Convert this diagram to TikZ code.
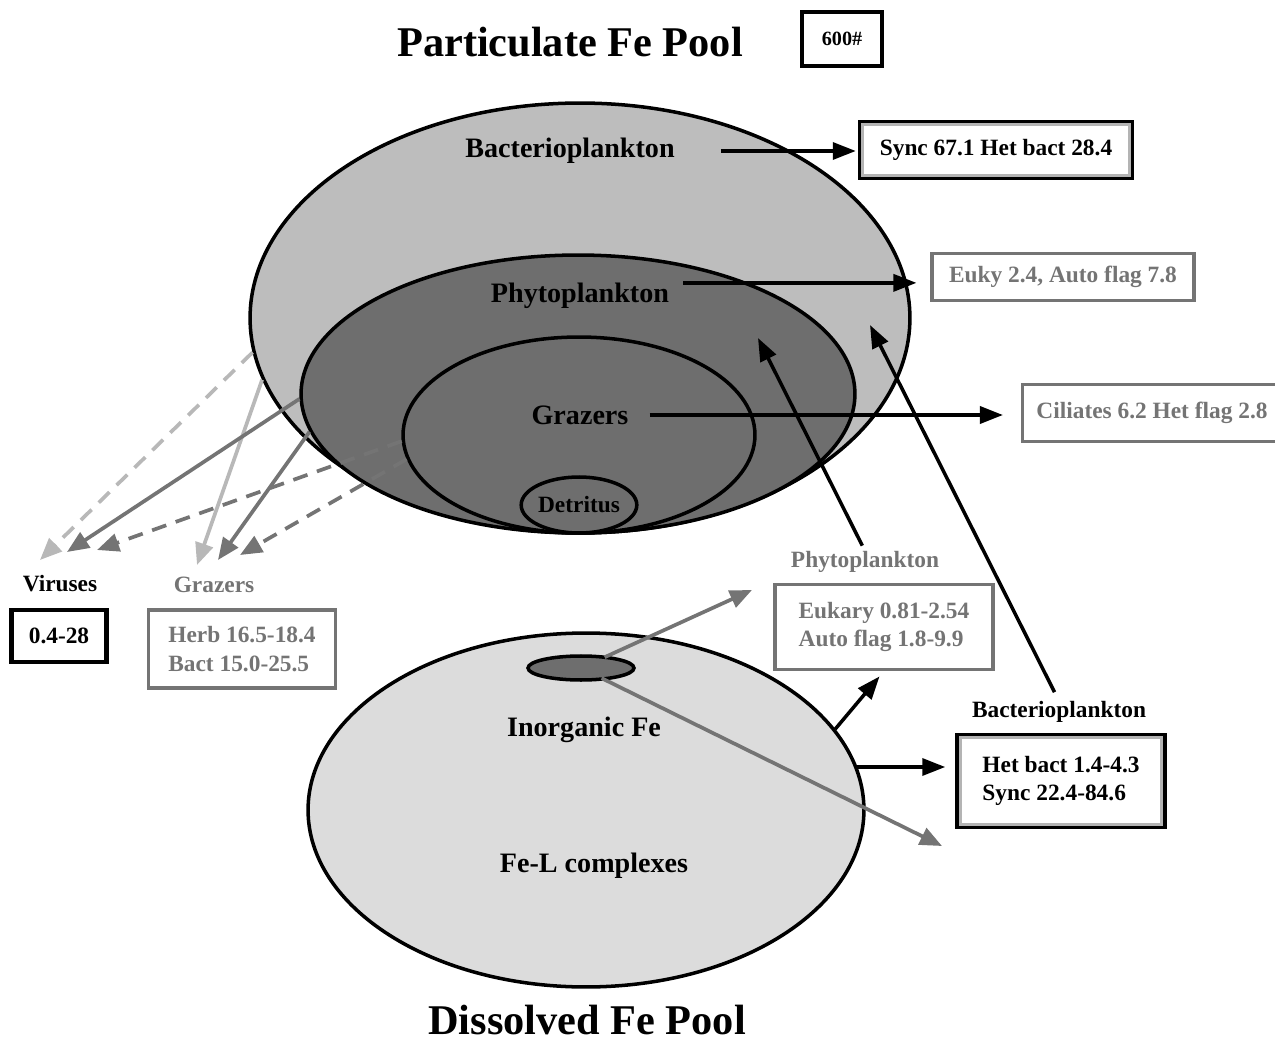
\documentclass[tikz,border=0pt]{standalone}
\usepackage{fontspec}
\setmainfont{Liberation Serif}
\usetikzlibrary{arrows.meta,calc,shapes.geometric}
\definecolor{lightfill}{HTML}{BDBDBD}
\definecolor{darkfill}{HTML}{6E6E6E}
\definecolor{dissfill}{HTML}{DCDCDC}
\definecolor{midgray}{HTML}{747474}
\definecolor{palegray}{HTML}{B8B8B8}
\definecolor{bandgray}{HTML}{B4B4B4}

\begin{document}
\begin{tikzpicture}[x=0.02cm,y=-0.02cm,
    title/.style={font=\fontsize{24.1}{28}\selectfont\bfseries},
    inlabel/.style={font=\fontsize{16}{19}\selectfont\bfseries,inner sep=0pt},
    tag/.style={font=\fontsize{13.3}{16}\selectfont\bfseries,inner sep=0pt},
    pool/.style={ellipse,draw=black,line width=2pt,inner sep=0pt},
    blackbox/.style={tag,draw=black,line width=2.6pt,align=left},
    graybox/.style={tag,draw=midgray,text=midgray,line width=1.8pt,align=left},
    flow/.style={line width=2pt,-{Triangle[length=0.46cm,width=0.34cm]}},
    loss/.style={line width=2.1pt,-{Triangle[length=0.44cm,width=0.36cm]}},
    broken/.style={dash pattern=on 0.3cm off 0.2cm}]
  \useasboundingbox (0,0) rectangle (1275,1044);

  % particulate pool
  \node[pool,fill=lightfill,minimum width=13.2cm,minimum height=8.6cm] (bactpool) at (580,318) {};
  \node[pool,fill=darkfill,minimum width=11.08cm,minimum height=5.56cm] (phytopool) at (578,394) {};
  \node[pool,fill=darkfill,minimum width=7.04cm,minimum height=3.92cm] (grazpool) at (579,435) {};
  \node[pool,fill=darkfill,tag,minimum width=2.2cm,minimum height=1.12cm] (detpool) at (579,505) {Detritus};

  \node[inlabel] (bactlbl) at (570,151) {Bacterioplankton};
  \node[inlabel] (phylbl) at (580,296) {Phytoplankton};
  \node[inlabel] (grzlbl) at (580,415) {Grazers};

  % dissolved pool
  \node[pool,fill=dissfill,minimum width=11.12cm,minimum height=7.08cm] (disspool) at (586,810) {};
  \node[pool,fill=darkfill,minimum width=2.12cm,minimum height=0.48cm] (inorg) at (581,668) {};
  \node[inlabel] (inorglbl) at (584,730) {Inorganic Fe};
  \node[inlabel] (fellbl) at (594,866) {Fe-L complexes};

  \node[title] (parttitle) at (570,42) {Particulate Fe Pool};
  \node[title] (disstitle) at (587,1020) {Dissolved Fe Pool};
  \node[blackbox,font=\fontsize{11.5}{14}\selectfont\bfseries,minimum width=1.6cm,minimum height=1.08cm] (count) at (842,39) {600\#};

  % boxes
  \node[blackbox,minimum width=5.44cm,minimum height=1.12cm] (sync) at (996,150) {Sync 67.1 Het bact 28.4};
  \node[graybox,minimum width=5.24cm,minimum height=0.94cm] (euky) at (1063,277) {Euky 2.4, Auto flag 7.8};
  \node[graybox,minimum width=5.18cm,minimum height=1.14cm] (cil) at (1152,413) {Ciliates 6.2 Het flag 2.8};

  \node[tag] (virlab) at (60,584) {Viruses};
  \node[tag,text=midgray] (grzlab) at (214,585) {Grazers};
  \node[blackbox,minimum width=1.9cm,minimum height=1.04cm] (virbox) at (59,636) {0.4-28};
  \node[graybox,minimum width=3.74cm,minimum height=1.56cm] (grzbox) at (242,649) {Herb 16.5-18.4\\Bact 15.0-25.5};

  \node[tag,text=midgray] (phylab) at (865,562) {Phytoplankton};
  \node[graybox,minimum width=4.36cm,minimum height=1.7cm] (phybox) at (884,627) {Eukary 0.81-2.54\\Auto flag 1.8-9.9};
  \node[tag] (baclab) at (1059,712) {Bacterioplankton};
  \node[blackbox,minimum width=4.14cm,minimum height=1.84cm] (bacbox) at (1061,781) {Het bact 1.4-4.3\\Sync 22.4-84.6};

  \foreach \b in {sync,bacbox}
    \draw[bandgray,line width=1.6pt] ($(\b.north west)+(5,5)$) rectangle ($(\b.south east)+(-5,-5)$);

  % free arrow ends
  \coordinate (vir1) at (40,560);
  \coordinate (vir2) at (67,552);
  \coordinate (vir3) at (97,550);
  \coordinate (grz1) at (197,565);
  \coordinate (grz2) at (218,560);
  \coordinate (grz3) at (240,555);
  \coordinate (phytip) at (758,338);
  \coordinate (bactip) at (870,325);
  \coordinate (uptake1) at (752,590);
  \coordinate (uptake2) at (942,846);

  % losses to viruses and grazers
  \foreach \from/\to/\col/\pat in {bactpool.186/vir1/palegray/broken, bactpool.191/grz1/palegray/solid,
      phytopool.181/vir2/midgray/solid, phytopool.188/grz2/midgray/solid,
      grazpool.182/vir3/midgray/broken, grazpool.188/grz3/midgray/broken}
    \draw[loss,\col,\pat] (\from) -- (\to);

  % fluxes
  \draw[flow,shorten <=0.92cm,shorten >=0.04cm] (bactlbl.east) -- (bactlbl.east -| sync.west);
  \draw[flow,shorten <=0.28cm,shorten >=0.28cm] (phylbl.north east) -- (phylbl.north east -| euky.west);
  \draw[flow,shorten <=0.42cm,shorten >=0.36cm] (grzlbl.east) -- (grzlbl.east -| cil.west);
  \draw[flow,shorten <=0.12cm] (phylab.north) -- (phytip);
  \draw[flow,shorten <=0.2cm] (baclab.north) -- (bactip);
  \draw[flow,shorten >=0.14cm] (disspool.18) -- (phybox.south);
  \draw[flow,shorten >=0.2cm] (disspool.9) -- (disspool.9 -| bacbox.west);
  \draw[loss,midgray,shorten <=0.52cm] (inorg.center) -- (uptake1);
  \draw[loss,midgray,shorten <=0.46cm] (inorg.center) -- (uptake2);
\end{tikzpicture}
\end{document}
